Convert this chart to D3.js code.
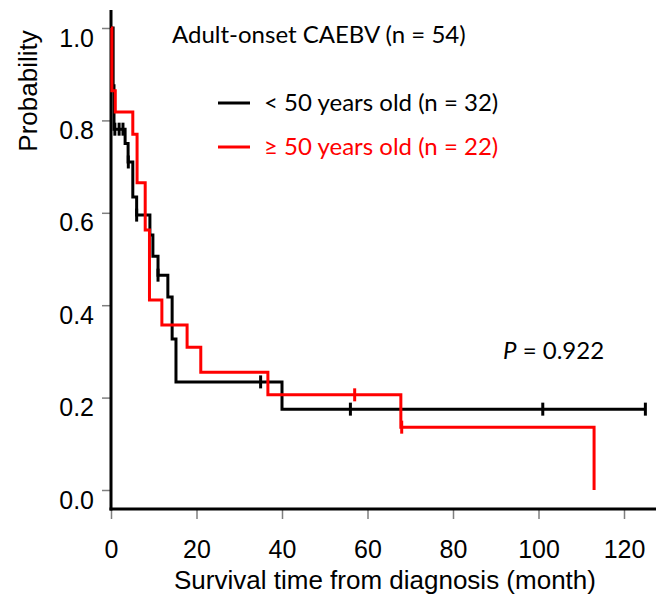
<!DOCTYPE html>
<html>
<head>
<meta charset="utf-8">
<script src="https://cdn.jsdelivr.net/npm/d3@7"></script>
<style>
  body { margin: 0; background: #fff; }
  .tick text { font-family: "Liberation Sans", Arial, sans-serif; font-size: 25px; fill: #000; }
  .tick line { stroke: #7f7f7f; stroke-width: 1.5; }
</style>
</head>
<body>
<script>
// Kaplan-Meier curves (time in months, survival probability)
var youngTimes = [0, 0.5, 0.7, 3.3, 4.0, 5.1, 6.0, 9.1, 9.8, 11.0, 13.3, 14.3, 15.2, 40.0, 125];
var youngSurv  = [1.0, 0.875, 0.781, 0.75, 0.71, 0.634, 0.595, 0.552, 0.506, 0.465, 0.418, 0.327, 0.234, 0.175, 0.175];
var youngCensor = [0.9, 1.9, 2.8, 4.05, 6.0, 11.0, 35.0, 56.0, 101.0, 125.0];

var oldTimes = [0, 0.2, 1.0, 5.1, 6.1, 8.0, 9.0, 11.9, 17.8, 21.0, 36.7, 67.8, 113.0];
var oldSurv  = [1.0, 0.864, 0.818, 0.77, 0.665, 0.563, 0.411, 0.357, 0.309, 0.255, 0.206, 0.136, 0];
var oldCensor = [57.0, 68.0];

var xTicks = [0, 20, 40, 60, 80, 100, 120];
var yTicks = [0, 0.2, 0.4, 0.6, 0.8, 1.0];

var seriesNames = ["< 50 years old (n = 32)", "\u2265 50 years old (n = 22)"];
var seriesColors = ["#000000", "#ff0000"];

var W = 658, H = 600;

var svg = d3.select("body").append("svg")
    .attr("width", W)
    .attr("height", H);

// scales: 0 month at x=111, 120 at x=624 ; p=0 at y=490, p=1 at y=28
var x = d3.scaleLinear().domain([0, 120]).range([111, 624]);
var y = d3.scaleLinear().domain([0, 1]).range([490, 28]);

var axisY = 509;

// y axis ticks (labels sit a little below their ticks, as in the original)
svg.append("g")
    .attr("transform", "translate(" + x(0) + ",0)")
    .call(d3.axisLeft(y).tickValues(yTicks).tickSize(9).tickPadding(8)
        .tickFormat(d3.format(".1f")))
    .call(function(g) { g.select(".domain").remove(); })
    .call(function(g) { g.selectAll(".tick text").attr("y", 10); });

// x axis ticks
svg.append("g")
    .attr("transform", "translate(0," + axisY + ")")
    .call(d3.axisBottom(x).tickValues(xTicks).tickSize(10).tickPadding(21)
        .tickFormat(d3.format("d")))
    .call(function(g) { g.select(".domain").remove(); });

// axis lines
svg.append("line")
    .attr("x1", x(0)).attr("x2", x(0))
    .attr("y1", 10).attr("y2", axisY + 1.5)
    .attr("stroke", "#000").attr("stroke-width", 3);
svg.append("line")
    .attr("x1", x(0) - 1.5).attr("x2", 656)
    .attr("y1", axisY).attr("y2", axisY)
    .attr("stroke", "#000").attr("stroke-width", 3);

// axis titles
svg.append("text")
    .attr("x", 385).attr("y", 589)
    .attr("text-anchor", "middle")
    .style("font", "26px 'Liberation Sans', Arial, sans-serif")
    .text("Survival time from diagnosis (month)");

svg.append("text")
    .attr("transform", "translate(37,91)rotate(-90)")
    .attr("text-anchor", "middle")
    .style("font", "26px 'Liberation Sans', Arial, sans-serif")
    .text("Probability");

var line = d3.line()
    .curve(d3.curveStepAfter)
    .x(function(d) { return x(d[0]); })
    .y(function(d) { return y(d[1]); });

function survAt(times, surv, t) {
    var s = surv[0];
    for (var i = 0; i < times.length; i++) {
        if (times[i] <= t) s = surv[i];
    }
    return s;
}

function drawCurve(times, surv, censor, color) {
    var pts = times.map(function(t, i) { return [t, surv[i]]; });
    svg.append("path")
        .attr("d", line(pts))
        .attr("fill", "none")
        .attr("stroke", color)
        .attr("stroke-width", 3);

    svg.selectAll(null)
        .data(censor)
        .enter().append("line")
        .attr("x1", function(d) { return x(d); })
        .attr("x2", function(d) { return x(d); })
        .attr("y1", function(d) { return y(survAt(times, surv, d)) - 6.5; })
        .attr("y2", function(d) { return y(survAt(times, surv, d)) + 6.5; })
        .attr("stroke", color)
        .attr("stroke-width", 3);
}

drawCurve(youngTimes, youngSurv, youngCensor, seriesColors[0]);
drawCurve(oldTimes, oldSurv, oldCensor, seriesColors[1]);

// legend
var legendFont = "24px Lato, 'Open Sans', sans-serif";
svg.append("text")
    .attr("x", 172).attr("y", 43)
    .style("font", legendFont)
    .text("Adult-onset CAEBV (n = 54)");

var legend = svg.selectAll(".legend")
    .data(seriesNames)
    .enter().append("g")
    .attr("class", "legend")
    .attr("transform", function(d, i) { return "translate(218," + (103 + i * 44) + ")"; });

legend.append("line")
    .attr("x1", 0).attr("x2", 32)
    .attr("stroke", function(d, i) { return seriesColors[i]; })
    .attr("stroke-width", 3);

legend.append("text")
    .attr("x", 46).attr("dy", "0.35em")
    .style("font", legendFont)
    .attr("fill", function(d, i) { return seriesColors[i]; })
    .text(function(d) { return d; });

// p value
var pText = svg.append("text")
    .attr("x", 503).attr("y", 359)
    .style("font", legendFont);
pText.append("tspan").style("font-style", "italic").text("P");
pText.append("tspan").text(" = 0.922");
</script>
</body>
</html>
